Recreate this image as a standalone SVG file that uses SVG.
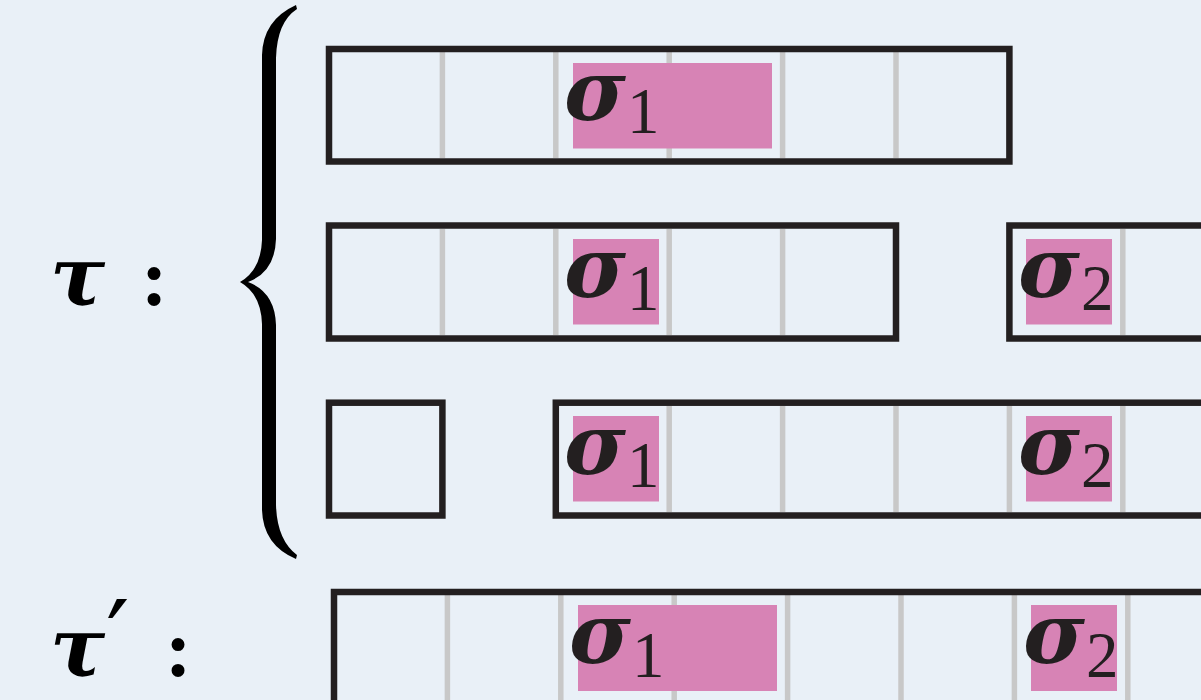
<svg xmlns="http://www.w3.org/2000/svg" width="1201" height="700" viewBox="0 0 1201 700">
<style>
.box{fill:none;stroke:#231f20;stroke-width:6.5}
.div{stroke:#c8c8c8;stroke-width:5.5}
.pk{fill:#d783b5}
.sig{font-family:"DejaVu Serif",serif;font-style:italic;font-weight:bold;font-size:84px;fill:#231f20}
.sub{font-family:"Liberation Serif",serif;font-size:65px;fill:#231f20}
.lab{font-family:"DejaVu Serif",serif;font-style:italic;font-weight:bold;font-size:82px;fill:#000}
.col{font-family:"Liberation Serif",serif;font-weight:bold;font-size:80px;fill:#000}
.pr{font-family:"DejaVu Sans",sans-serif;font-size:104px;fill:#000}
</style>
<rect width="1201" height="700" fill="#e9f0f7"/>
<g id="label-tau">
<text class="lab" x="50" y="305">τ</text>
<text class="col" x="141" y="305">:</text>
</g>
<g id="brace">
<path fill="#000" d="M296,5 Q263,20 262,55 L262,240 Q261,270 240,282 Q261,294 262,324 L262,510 Q263,545 296,559 L297,555 Q277,540 276,505 L276,325 Q275,292 248,282 Q275,272 276,239 L276,58 Q277,22 297,9 Z"/>
</g>
<g id="row1">
<line class="div" x1="442.4" y1="52" x2="442.4" y2="158"/>
<line class="div" x1="555.8" y1="52" x2="555.8" y2="158"/>
<line class="div" x1="669.2" y1="52" x2="669.2" y2="158"/>
<line class="div" x1="782.6" y1="52" x2="782.6" y2="158"/>
<line class="div" x1="896" y1="52" x2="896" y2="158"/>
<rect class="pk" x="573" y="63" width="199" height="85.5"/>
<rect class="box" x="329" y="49" width="680.4" height="112.5"/>
<text class="sig" x="564" y="120">σ</text>
<text class="sub" x="627" y="133">1</text>
</g>
<g id="row2a">
<line class="div" x1="442.4" y1="229" x2="442.4" y2="335"/>
<line class="div" x1="555.8" y1="229" x2="555.8" y2="335"/>
<line class="div" x1="669.2" y1="229" x2="669.2" y2="335"/>
<line class="div" x1="782.6" y1="229" x2="782.6" y2="335"/>
<rect class="pk" x="573" y="239" width="86" height="85.5"/>
<rect class="box" x="329" y="225.5" width="567" height="113"/>
<text class="sig" x="564" y="296.5">σ</text>
<text class="sub" x="627" y="310">1</text>
</g>
<g id="row2b">
<line class="div" x1="1122.8" y1="229" x2="1122.8" y2="335"/>
<rect class="pk" x="1026" y="239" width="86" height="85.5"/>
<rect class="box" x="1009.4" y="225.5" width="300" height="113"/>
<text class="sig" x="1018" y="296.5">σ</text>
<text class="sub" x="1081" y="310">2</text>
</g>
<g id="row3a">
<rect class="box" x="329" y="402.7" width="113.4" height="112.8"/>
</g>
<g id="row3b">
<line class="div" x1="669.2" y1="406" x2="669.2" y2="512"/>
<line class="div" x1="782.6" y1="406" x2="782.6" y2="512"/>
<line class="div" x1="896" y1="406" x2="896" y2="512"/>
<line class="div" x1="1009.4" y1="406" x2="1009.4" y2="512"/>
<line class="div" x1="1122.8" y1="406" x2="1122.8" y2="512"/>
<rect class="pk" x="573" y="416" width="86" height="85.5"/>
<rect class="pk" x="1026" y="416" width="86" height="85.5"/>
<rect class="box" x="555.8" y="402.7" width="800" height="112.8"/>
<text class="sig" x="564" y="473.5">σ</text>
<text class="sub" x="627" y="487">1</text>
<text class="sig" x="1018" y="473.5">σ</text>
<text class="sub" x="1081" y="487">2</text>
</g>
<g id="label-tau-prime">
<text class="lab" x="50" y="676">τ</text>
<text class="pr" x="106" y="675">′</text>
<text class="col" x="165" y="676">:</text>
</g>
<g id="row4">
<line class="div" x1="447.4" y1="595" x2="447.4" y2="710"/>
<line class="div" x1="560.8" y1="595" x2="560.8" y2="710"/>
<line class="div" x1="674.2" y1="595" x2="674.2" y2="710"/>
<line class="div" x1="787.6" y1="595" x2="787.6" y2="710"/>
<line class="div" x1="901" y1="595" x2="901" y2="710"/>
<line class="div" x1="1014.4" y1="595" x2="1014.4" y2="710"/>
<line class="div" x1="1127.8" y1="595" x2="1127.8" y2="710"/>
<rect class="pk" x="578" y="605" width="199" height="86"/>
<rect class="pk" x="1031" y="605" width="86" height="86"/>
<rect class="box" x="334" y="592" width="900" height="200"/>
<text class="sig" x="569" y="663">σ</text>
<text class="sub" x="632" y="677">1</text>
<text class="sig" x="1023" y="663">σ</text>
<text class="sub" x="1086" y="677">2</text>
</g>
</svg>
